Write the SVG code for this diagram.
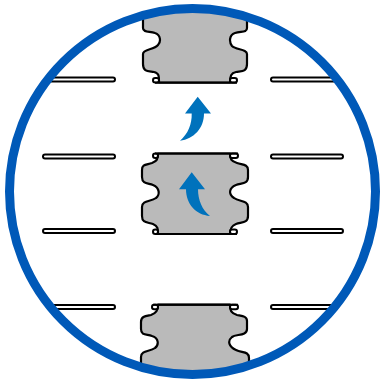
<svg xmlns="http://www.w3.org/2000/svg" width="380" height="383" viewBox="0 0 380 383">
<defs><clipPath id="inside"><circle cx="192.500" cy="191.500" r="181"/></clipPath></defs>
<style>
.bar{fill:#fff;stroke:#000;stroke-width:2}
.seal{fill:#bababa;stroke:#000;stroke-width:2.200;stroke-linejoin:round}
.loop{fill:#fff;stroke:#000;stroke-width:2}
.arrow{fill:#0072bc}
</style>
<rect width="380" height="383" fill="#fff"/>
<g clip-path="url(#inside)">
<g id="bars">
<rect class="bar" x="30" y="77.500" width="85" height="4" rx="2"/>
<rect class="bar" x="271" y="77.500" width="85" height="4" rx="2"/>
<rect class="bar" x="43" y="154.500" width="72" height="4" rx="2"/>
<rect class="bar" x="271" y="154.500" width="72" height="4" rx="2"/>
<rect class="bar" x="43" y="229" width="72" height="4" rx="2"/>
<rect class="bar" x="271" y="229" width="72" height="4" rx="2"/>
<rect class="bar" x="30" y="305" width="85" height="4" rx="2"/>
<rect class="bar" x="271" y="305" width="85" height="4" rx="2"/>
</g>
<g id="seal-top">
<path class="seal" d="M143 5V28C143 33 150 31 155 33C161 35 161 42 158 45C154 50 143 49 143 54V64C143 72 148 71 154 72C159 73 159 76 159 82.500H230C230 76 231 73 236 72C242 71 247 72 247 64V54C247 49 236 50 232 46C229 42 229 35 235 33C241 31 247 33 247 28V5Z"/>
<rect class="loop" x="153" y="78" width="6" height="4.500" rx="2.200"/>
<rect class="loop" x="230" y="78" width="7" height="4.500" rx="2.200"/>
<path d="M155 82.700H237" fill="none" stroke="#000" stroke-width="2"/>
</g>
<g id="seal-middle">
<path class="seal" d="M158 153.500C158 159 157 161 152 163C146 165 142 164 142 170V177C142 184 148 183 153 185C160 188 160 195 156 198C151 202 142 200 142 207V216C142 223 147 222 153 224C158 226 158 229 158 234H230C230 229 231 226 236 224C242 222 248 223 248 216V207C248 200 239 202 234 198C228 194 229 188 236 185C242 183 248 184 248 177V170C248 164 242 165 237 163C231 161 230 159 230 153.500Z"/>
<rect class="loop" x="153" y="229.500" width="5" height="4.500" rx="2.200"/>
<rect class="loop" x="230" y="229.500" width="7" height="4.500" rx="2.200"/>
<rect class="loop" x="153" y="153.500" width="5" height="4.500" rx="2.200"/>
<rect class="loop" x="230" y="153.500" width="8" height="4.500" rx="2.200"/>
<path d="M155 153.500H238M155 234H237" fill="none" stroke="#000" stroke-width="2"/>
</g>
<g id="seal-bottom">
<path class="seal" d="M158 304.700C158 311 156 313 151 315C146 316 141 316 141 322V329C141 336 147 334 152 336C159 338 159 345 155 348C150 352 141 350 141 357V380H249V358C249 351 242 353 236 350C229 347 227 341 232 337C236 334 247 336 247 329V321C247 316 242 316 237 315C231 313 230 311 230 304.700Z"/>
<rect class="loop" x="152" y="304.700" width="6" height="4.500" rx="2.200"/>
<rect class="loop" x="230" y="304.700" width="8" height="4.500" rx="2.200"/>
<path d="M153 304.700H238" fill="none" stroke="#000" stroke-width="2"/>
</g>
</g>
<g id="arrows">
<path class="arrow" d="M197.700 96.700L211 113.500H204C204 128 194 139 180 140.700C188 134 192 124 191.700 113.500H185Z"/>
<path class="arrow" d="M191.700 172.300L205 189.300H198C198 200 202 210 210 216C196 215 186 204 186 189.300H179Z"/>
</g>
<g id="ring">
<circle cx="192.500" cy="191.500" r="183" fill="none" stroke="#0059b8" stroke-width="9"/>
</g>
</svg>
